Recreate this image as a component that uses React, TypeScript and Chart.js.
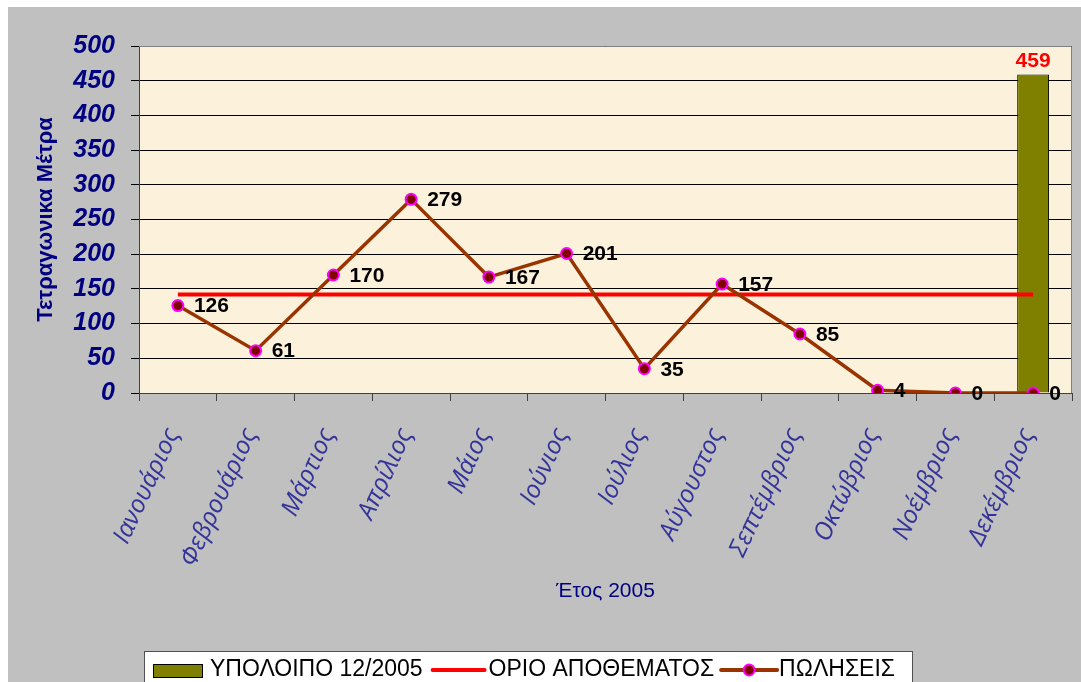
import React, { useEffect, useRef } from "react";
import { Chart, registerables } from "chart.js";

Chart.register(...registerables);

const months = [
  "Ιανουάριος", "Φεβρουάριος", "Μάρτιος", "Απρίλιος", "Μάιος", "Ιούνιος",
  "Ιούλιος", "Αύγουστος", "Σεπτέμβριος", "Οκτώβριος", "Νοέμβριος", "Δεκέμβριος",
];
const sales = [126, 61, 170, 279, 167, 201, 35, 157, 85, 4, 0, 0];
const stockLimit = [142, 142, 142, 142, 142, 142, 142, 142, 142, 142, 142, 142];
const remainder = [null, null, null, null, null, null, null, null, null, null, null, 459];
const yTicks = [0, 50, 100, 150, 200, 250, 300, 350, 400, 450, 500];

const seriesNames = ["ΥΠΟΛΟΙΠΟ 12/2005", "ΟΡΙΟ ΑΠΟΘΕΜΑΤΟΣ", "ΠΩΛΗΣΕΙΣ"];
const yTitle = "Τετραγωνικα Μέτρα";
const xTitle = "Έτος 2005";

const OLIVE = "#808000";
const RED = "#FF0000";
const BROWN = "#993300";
const MARKER = "#800000";
const MAGENTA = "#FF00FF";
const NAVY = "#000080";

const plotPlugin = {
  id: "plotDecor",
  beforeDraw(chart: any) {
    const { ctx, chartArea: a } = chart;
    ctx.save();
    ctx.fillStyle = "#FCF2DC";
    ctx.fillRect(a.left, a.top, a.right - a.left, a.bottom - a.top);
    ctx.restore();
  },
  beforeDatasetsDraw(chart: any) {
    const { ctx, chartArea: a } = chart;
    ctx.save();
    ctx.strokeStyle = "#808080";
    ctx.lineWidth = 1;
    const t = Math.round(a.top) + 0.5;
    const r = Math.round(a.right) - 0.5;
    ctx.beginPath();
    ctx.moveTo(a.left, t);
    ctx.lineTo(r, t);
    ctx.lineTo(r, a.bottom);
    ctx.stroke();
    ctx.restore();
  },
  afterDatasetsDraw(chart: any) {
    const { ctx } = chart;
    ctx.save();
    // sales labels
    const lineMeta = chart.getDatasetMeta(2);
    ctx.font = "bold 21px 'Liberation Sans', Arial, sans-serif";
    ctx.fillStyle = "#000000";
    ctx.textAlign = "left";
    ctx.textBaseline = "middle";
    lineMeta.data.forEach((p: any, i: number) => {
      const v = sales[i];
      if (v === null || v === undefined) return;
      ctx.fillText(String(v), p.x + 16, p.y + 1);
    });
    // bar label
    const barMeta = chart.getDatasetMeta(0);
    ctx.font = "bold 21px 'Liberation Sans', Arial, sans-serif";
    ctx.fillStyle = RED;
    ctx.textAlign = "center";
    ctx.textBaseline = "bottom";
    barMeta.data.forEach((b: any, i: number) => {
      const v = remainder[i];
      if (v === null || v === undefined) return;
      ctx.fillText(String(v), b.x, b.y - 3);
    });
    ctx.restore();
  },
  afterDraw(chart: any) {
    const { ctx } = chart;
    ctx.save();
    const boxX = 136;
    const boxY = 644;
    const boxW = 768;
    const boxH = 40;
    ctx.fillStyle = "#FFFFFF";
    ctx.fillRect(boxX, boxY, boxW, boxH);
    ctx.strokeStyle = "#505050";
    ctx.lineWidth = 1;
    ctx.strokeRect(boxX + 0.5, boxY + 0.5, boxW, boxH);

    const cy = 663;
    ctx.font = "23px 'Liberation Sans', Arial, sans-serif";
    ctx.textAlign = "left";
    ctx.textBaseline = "middle";
    let x = 145;
    // bar swatch
    ctx.fillStyle = OLIVE;
    ctx.fillRect(x, 657, 49, 13);
    ctx.strokeStyle = "#000000";
    ctx.lineWidth = 1;
    ctx.strokeRect(x + 0.5, 657.5, 49, 13);
    x += 57;
    ctx.fillStyle = "#000000";
    ctx.fillText(seriesNames[0], x, cy);
    x += ctx.measureText(seriesNames[0]).width + 10;
    // red line
    ctx.strokeStyle = RED;
    ctx.lineWidth = 4;
    ctx.lineCap = "round";
    ctx.beginPath();
    ctx.moveTo(x, cy);
    ctx.lineTo(x + 52, cy);
    ctx.stroke();
    x += 56;
    ctx.fillText(seriesNames[1], x, cy);
    x += ctx.measureText(seriesNames[1]).width + 7;
    // brown line with marker
    ctx.strokeStyle = BROWN;
    ctx.lineWidth = 4;
    ctx.beginPath();
    ctx.moveTo(x, cy);
    ctx.lineTo(x + 56, cy);
    ctx.stroke();
    ctx.beginPath();
    ctx.arc(x + 28, cy, 5.5, 0, Math.PI * 2);
    ctx.fillStyle = MARKER;
    ctx.fill();
    ctx.strokeStyle = MAGENTA;
    ctx.lineWidth = 2;
    ctx.stroke();
    x += 58;
    ctx.fillStyle = "#000000";
    ctx.fillText(seriesNames[2], x, cy);
    ctx.restore();
  },
};

export default function App() {
  const ref = useRef<HTMLCanvasElement | null>(null);

  useEffect(() => {
    if (!ref.current) return;
    const chart = new Chart(ref.current, {
      type: "bar",
      data: {
        labels: months,
        datasets: [
          {
            type: "bar",
            label: seriesNames[0],
            data: remainder as any,
            backgroundColor: OLIVE,
            borderColor: "#000000",
            borderWidth: 1,
            categoryPercentage: 0.82,
            barPercentage: 0.5,
            order: 3,
          } as any,
          {
            type: "line",
            label: seriesNames[1],
            data: stockLimit,
            borderColor: RED,
            borderWidth: 4,
            pointRadius: 0,
            fill: false,
            order: 2,
          } as any,
          {
            type: "line",
            label: seriesNames[2],
            data: sales,
            borderColor: BROWN,
            borderWidth: 3.5,
            pointRadius: 5.5,
            pointBackgroundColor: MARKER,
            pointBorderColor: MAGENTA,
            pointBorderWidth: 2,
            fill: false,
            tension: 0,
            order: 1,
          } as any,
        ],
      },
      options: {
        responsive: false,
        animation: false,
        layout: { padding: { left: 0, top: 39, right: 9, bottom: 0 } },
        plugins: {
          legend: { display: false },
          tooltip: { enabled: false },
        },
        scales: {
          x: {
            offset: true,
            grid: {
              display: true,
              drawOnChartArea: false,
              drawTicks: true,
              tickLength: 8,
              color: "#404040",
              offset: true,
            },
            border: { display: true, color: "#404040", width: 1 },
            ticks: {
              color: "#333399",
              font: { family: "'Open Sans', sans-serif", size: 25, style: "italic" },
              maxRotation: 65,
              minRotation: 65,
              autoSkip: false,
              padding: 23,
              labelOffset: -5,
            },
            title: {
              display: true,
              text: xTitle,
              color: NAVY,
              font: { family: "'Liberation Sans', Arial, sans-serif", size: 21 },
              padding: { top: 0, bottom: 78 },
            },
            afterFit(s: any) {
              s.height = 289;
              s.paddingLeft = 0;
              s.paddingRight = 0;
            },
          },
          y: {
            min: 0,
            max: 500,
            afterBuildTicks(s: any) {
              s.ticks = yTicks.map((v) => ({ value: v }));
            },
            ticks: {
              color: NAVY,
              font: {
                family: "'Liberation Sans', Arial, sans-serif",
                size: 25,
                weight: "bold",
                style: "italic",
              },
              padding: 16,
            },
            grid: { color: "#000000", lineWidth: 1, tickLength: 8, drawTicks: true },
            border: { display: true, color: "#404040", width: 1 },
            title: {
              display: true,
              text: yTitle,
              color: NAVY,
              font: { family: "'Liberation Sans', Arial, sans-serif", size: 22, weight: "bold" },
              padding: { top: 25, bottom: 0 },
            },
            afterFit(s: any) {
              s.width = 131;
            },
          },
        },
      } as any,
      plugins: [plotPlugin],
    });
    return () => chart.destroy();
  }, []);

  return (
    <div style={{ position: "fixed", left: 8, top: 7, width: 1073, height: 675, background: "#C0C0C0" }}>
      <canvas ref={ref} width={1073} height={675} style={{ display: "block" }} />
    </div>
  );
}
